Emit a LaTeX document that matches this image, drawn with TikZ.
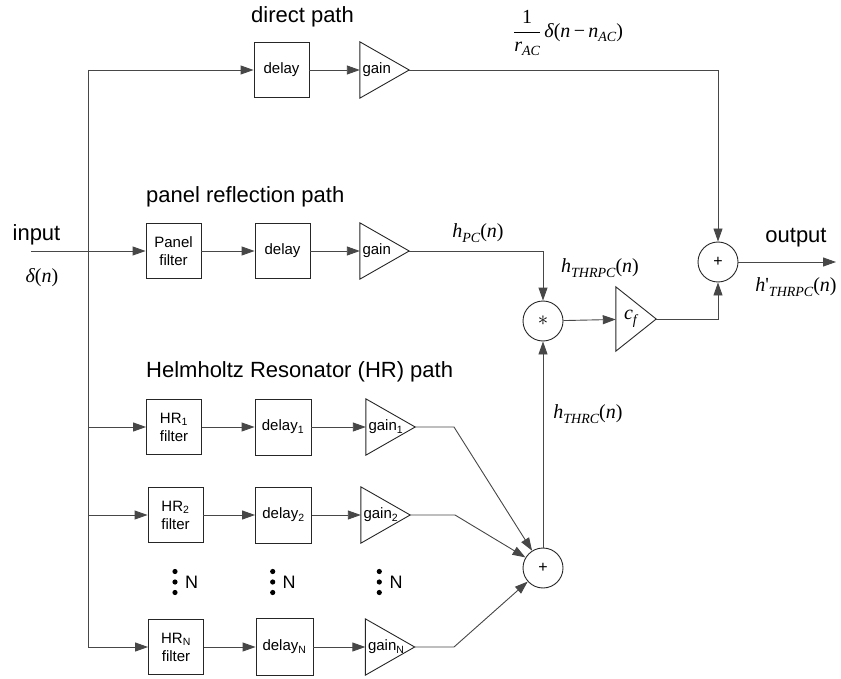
\documentclass[tikz,border=0pt]{standalone}
\usepackage{fontspec}
\setmainfont{Liberation Sans}
\newfontfamily\tms{Liberation Serif}
\usetikzlibrary{arrows.meta,calc}
\newcommand\mi[1]{{\itshape #1}}
\newcommand\sbs[1]{\raisebox{-4.5pt}{\fontsize{14}{14}\selectfont\itshape #1}}
\newcommand\hlab[2]{{\tms\fontsize{20}{24}\selectfont\mi{h}#1\sbs{#2}(\mi{n})}}
\begin{document}
\begin{tikzpicture}[x=1pt,y=-1pt,
  line/.style={draw=black!72, line width=0.9pt},
  arr/.style={line, -{Triangle[length=13pt,width=9pt]}},
  blk/.style={draw=black!85, line width=0.9pt, minimum width=55pt, minimum height=55pt, inner sep=0pt, align=center, font=\fontsize{15}{18}\selectfont},
  gainbox/.style={minimum width=49pt, minimum height=56pt, inner xsep=2.5pt, inner ysep=0pt, text width=44pt, align=left, font=\fontsize{15}{18}\selectfont},
  junc/.style={circle, draw=black!85, line width=0.9pt, minimum size=40pt, inner sep=0pt, font=\fontsize{16}{16}\selectfont},
  lab/.style={font=\fontsize{22}{26}\selectfont, inner sep=0pt},
  mlab/.style={inner sep=0pt},
  dotn/.style={font=\fontsize{18}{20}\selectfont, inner sep=0pt}
]
\useasboundingbox (0,0) rectangle (841,679);

% direct path
\node[lab] (tdirect) at (302.5,17) {direct path};
\node[blk] (dd) at (281.5,70) {delay};
\node[gainbox] (gd) at (384.5,70) {gain};

% panel path
\node[lab, anchor=west] (tpanel) at (146,197) {panel reflection path};
\node[blk] (pf) at (173.5,251) {Panel\\filter};
\node[blk] (pd) at (282.5,251) {delay};
\node[gainbox] (pg) at (384.5,251) {gain};

% HR path
\node[lab, anchor=west] (thr) at (146,372) {Helmholtz Resonator (HR) path};
\node[blk] (f1) at (174,427) {HR\textsubscript{1}\\filter};
\node[blk, minimum width=56pt, minimum height=56pt] (d1) at (283,427) {delay\textsubscript{1}};
\node[gainbox] (g1) at (390.5,427) {gain\textsubscript{1}};

\node[blk] (f2) at (175.5,515) {HR\textsubscript{2}\\filter};
\node[blk, minimum width=56pt, minimum height=56pt] (d2) at (283.5,515) {delay\textsubscript{2}};
\node[gainbox] (g2) at (385.5,515) {gain\textsubscript{2}};

\node[blk] (fN) at (176,647) {HR\textsubscript{N}\\filter};
\node[blk, minimum width=57pt, minimum height=57pt] (dN) at (284.5,647) {delay\textsubscript{N}};
\node[gainbox] (gN) at (390,647) {gain\textsubscript{N}};

% c_f gain
\node[minimum width=40pt, minimum height=64pt, inner xsep=8pt, inner ysep=0pt, text width=24pt, align=left] (cf) at (636,319)
  {\tms\fontsize{20}{24}\selectfont\mi{c}\sbs{f}};

\foreach \g in {gd,pg,g1,g2,gN,cf}
  \draw[line, draw=black!85, line join=miter] (\g.north west) -- (\g.east) -- (\g.south west) -- cycle;

% junctions
\node[junc] (star) at (543,321) {\fontsize{22}{22}\selectfont$\ast$};
\node[junc] (sum) at (543,568) {+};
\node[junc] (osum) at (718,262) {+};

% coordinates
\coordinate (in) at (31,251);
\coordinate (bt) at (88,70);
\coordinate (bb) at (88,647);
\coordinate (b1) at (88,427);
\coordinate (b2) at (88,515);
\coordinate (out) at (836,262);
\coordinate (k1) at (454,427);
\coordinate (k2) at (455,515);
\coordinate (kN) at (454,647);

% connectors
\draw[line] (bt) -- (bb);
\draw[arr] (bt) -- (dd);
\draw[arr] (dd) -- (gd);
\draw[arr] (gd.east) -| (osum);

\draw[arr] (in) -- (pf);
\draw[arr] (pf) -- (pd);
\draw[arr] (pd) -- (pg);
\draw[arr] (pg.east) -| (star);

\draw[arr] (b1) -- (f1);
\draw[arr] (f1) -- (d1);
\draw[arr] (d1) -- (g1);
\draw[arr] (g1.east) -- (k1) -- (sum);

\draw[arr] (b2) -- (f2);
\draw[arr] (f2) -- (d2);
\draw[arr] (d2) -- (g2);
\draw[arr] (g2.east) -- (k2) -- (sum);

\draw[arr] (bb) -- (fN);
\draw[arr] (fN) -- (dN);
\draw[arr] (dN) -- (gN);
\draw[arr] (gN.east) -- (kN) -- (sum);

\draw[arr] (sum) -- (star);
\draw[arr] (star) -- (cf);
\draw[arr] (cf.east) -| (osum);
\draw[arr] (osum) -- (out);

% dots
\foreach \x/\nx [count=\i] in {175/191.5, 272.7/289, 379.3/396} {
  \fill[black] (\x,571.5) circle (2.6pt);
  \fill[black] (\x,582) circle (2.6pt);
  \fill[black] (\x,592.5) circle (2.6pt);
  \node[dotn] (n\i) at (\nx,582) {N};
}

% labels
\node[lab] (tin) at (36.5,235) {input};
\node[mlab] (din) at (42,278) {\tms\fontsize{20}{24}\selectfont\mi{δ}(\mi{n})};
\node[mlab] (hpc) at (478,233) {\hlab{}{PC}};
\node[mlab] (hthrpc) at (600,268) {\hlab{}{THRPC}};
\node[mlab] (hthrc) at (588,414) {\hlab{}{THRC}};
\node[lab] (tout) at (796,238) {output};
\node[mlab] (hout) at (796,287) {\hlab{'}{THRPC}};
\node[mlab] (frac) at (568,33) {\tms\fontsize{20}{24}\selectfont
  $\displaystyle\frac{\hbox{1}}{\hbox{\itshape r\sbs{AC}}}$\,\mi{δ}(\mi{n}\,−\,\mi{n}\sbs{AC})};
\end{tikzpicture}
\end{document}
